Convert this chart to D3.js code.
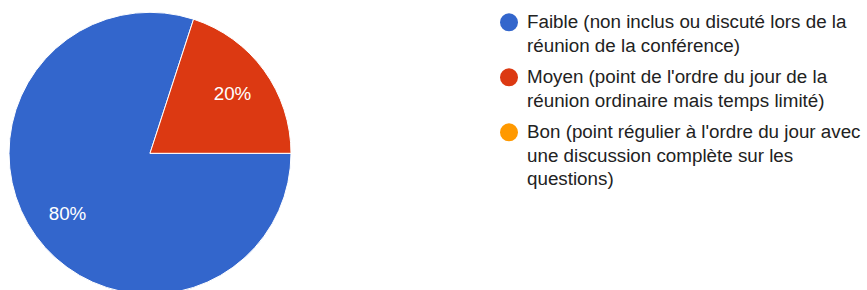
<!DOCTYPE html>
<html><head><meta charset="utf-8">
<script src="https://cdn.jsdelivr.net/npm/d3@7"></script>
<style>html,body{margin:0;padding:0;background:#fff;}svg{display:block;}</style>
</head><body>
<svg id="chart" width="867" height="290"></svg>
<script>
const categories = [
  "Faible (non inclus ou discuté lors de la\nréunion de la conférence)",
  "Moyen (point de l'ordre du jour de la\nréunion ordinaire mais temps limité)",
  "Bon (point régulier à l'ordre du jour avec\nune discussion complète sur les\nquestions)"
];
const values = [80, 20, 0];
const colors = ["#3366cc", "#dc3912", "#ff9900"];

const svg = d3.select("#chart");
const cx = 150, cy = 153.3, r = 141;
const total = d3.sum(values);

const pie = d3.pie().sort(null).value(d => d.v)
  .startAngle(Math.PI / 2).endAngle(Math.PI / 2 + 2 * Math.PI);
const data = pie(categories.map((c, i) => ({c, v: values[i], col: colors[i]})));
const arc = d3.arc().innerRadius(0).outerRadius(r);
const labelArc = d3.arc().innerRadius(102).outerRadius(102);

const g = svg.append("g").attr("transform", `translate(${cx},${cy})`);
g.selectAll("path").data(data.filter(d => d.data.v > 0)).join("path")
  .attr("d", arc).attr("fill", d => d.data.col)
  .attr("stroke", "#fff").attr("stroke-width", 1);

g.selectAll("text").data(data.filter(d => d.data.v > 0)).join("text")
  .attr("transform", d => `translate(${labelArc.centroid(d)})`)
  .attr("text-anchor", "middle").attr("dy", "0.35em")
  .attr("font-family", "Liberation Sans, Arial, sans-serif").attr("font-size", 18.8)
  .attr("fill", "#fff")
  .text(d => Math.round(d.data.v / total * 100) + "%");

// legend
const lineH = 23.5, entryGap = 31.5;
let y = 28.3;
const lg = svg.append("g");
categories.forEach((c, i) => {
  const lines = c.split("\n");
  lg.append("circle").attr("cx", 509).attr("cy", y - 6).attr("r", 9).attr("fill", colors[i]);
  const t = lg.append("text").attr("x", 527).attr("y", y)
    .attr("font-family", "Liberation Sans, Arial, sans-serif").attr("font-size", 18.8)
    .attr("fill", "#222");
  lines.forEach((l, j) => {
    t.append("tspan").attr("x", 527).attr("y", y + j * lineH).text(l);
  });
  y += (lines.length - 1) * lineH + entryGap;
});
</script>
</body></html>
